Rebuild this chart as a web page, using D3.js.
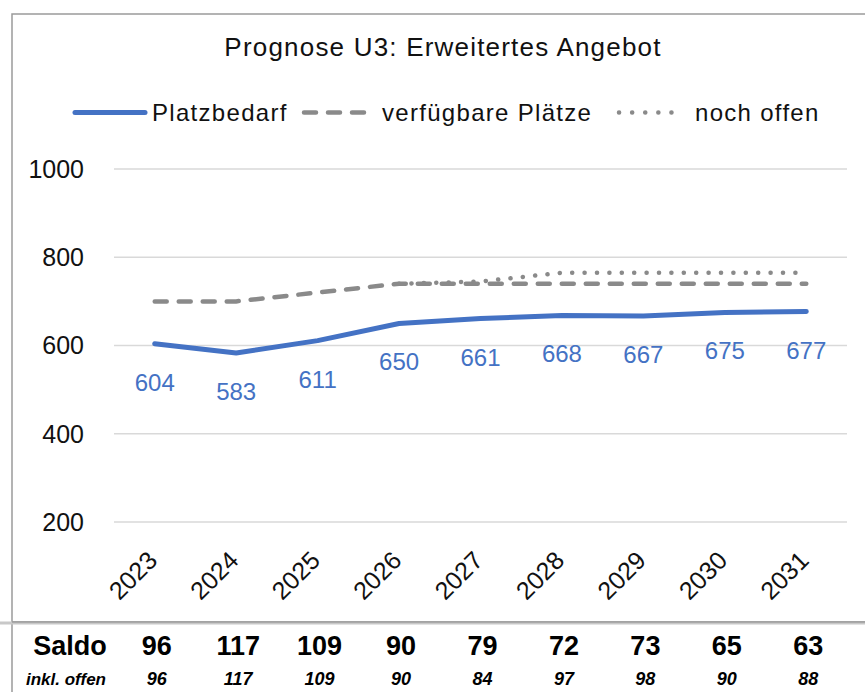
<!DOCTYPE html>
<html>
<head>
<meta charset="utf-8">
<script src="https://cdn.jsdelivr.net/npm/d3@7.9.0/dist/d3.min.js"></script>
<style>
  body { margin: 0; background: #fff; }
  svg { display: block; font-family: "Liberation Sans", Arial, sans-serif; }
</style>
</head>
<body>
<svg id="chart" width="865" height="692"></svg>
<script>
// chart values
const years = ["2023", "2024", "2025", "2026", "2027", "2028", "2029", "2030", "2031"];
const platzbedarf = [604, 583, 611, 650, 661, 668, 667, 675, 677];
const verfuegbar = [700, 700, 720, 740, 740, 740, 740, 740, 740];
const nochOffen = [null, null, null, 740, 745, 765, 765, 765, 765];
const saldo = [96, 117, 109, 90, 79, 72, 73, 65, 63];
const saldoOffen = [96, 117, 109, 90, 84, 97, 98, 90, 88];
const yTicks = [200, 400, 600, 800, 1000];

const blue = "#4472c4";
const grey = "#8a8a8a";

const svg = d3.select("#chart");
svg.append("rect").attr("width", 865).attr("height", 692).attr("fill", "#fff");

// frame of chart area + table line
svg.append("rect")
  .attr("x", 12).attr("y", 14)
  .attr("width", 900).attr("height", 608)
  .attr("fill", "none")
  .attr("stroke", "#9a9a9a")
  .attr("stroke-width", 1.5);
svg.append("line")
  .attr("x1", 12).attr("x2", 12).attr("y1", 622).attr("y2", 692)
  .attr("stroke", "#9a9a9a").attr("stroke-width", 1.5);
svg.append("line")
  .attr("x1", 0).attr("x2", 865).attr("y1", 623).attr("y2", 623)
  .attr("stroke", "#c8c8c8").attr("stroke-width", 3);
svg.append("line")
  .attr("x1", 12).attr("x2", 865).attr("y1", 622).attr("y2", 622)
  .attr("stroke", "#8a8a8a").attr("stroke-width", 1.2);

const plot = { left: 114, right: 847, top: 169, bottom: 522 };

const x = d3.scalePoint()
  .domain(years)
  .range([plot.left, plot.right])
  .padding(0.5);

const y = d3.scaleLinear()
  .domain([200, 1000])
  .range([plot.bottom, plot.top]);

// title
svg.append("text")
  .attr("x", 443).attr("y", 56)
  .attr("text-anchor", "middle")
  .attr("font-size", 26)
  .attr("letter-spacing", 1.2)
  .attr("fill", "#111")
  .text("Prognose U3: Erweitertes Angebot");

// legend
const legend = [
  { name: "Platzbedarf", x0: 75, x1: 145, tx: 152, dash: null, color: blue },
  { name: "verfügbare Plätze", x0: 304, x1: 372, tx: 382, dash: "12 12", color: grey },
  { name: "noch offen", x0: 619, x1: 684, tx: 695, dash: "0.1 13", color: grey }
];
const lg = svg.append("g").attr("class", "legend");
legend.forEach((d) => {
  lg.append("line")
    .attr("x1", d.x0).attr("x2", d.x1)
    .attr("y1", 112.5).attr("y2", 112.5)
    .attr("stroke", d.color)
    .attr("stroke-width", d.dash ? 4.5 : 5)
    .attr("stroke-linecap", "round")
    .attr("stroke-dasharray", d.dash);
  lg.append("text")
    .attr("x", d.tx).attr("y", 120.5)
    .attr("font-size", 24)
    .attr("letter-spacing", 1.3)
    .attr("fill", "#111")
    .text(d.name);
});

// gridlines + y labels
svg.append("g")
  .selectAll("line")
  .data(yTicks)
  .join("line")
  .attr("x1", plot.left).attr("x2", plot.right)
  .attr("y1", (d) => y(d)).attr("y2", (d) => y(d))
  .attr("stroke", "#d9d9d9")
  .attr("stroke-width", 1.5);

svg.append("g")
  .selectAll("text")
  .data(yTicks)
  .join("text")
  .attr("x", 84)
  .attr("y", (d) => y(d))
  .attr("dy", "0.35em")
  .attr("text-anchor", "end")
  .attr("font-size", 25)
  .attr("fill", "#111")
  .text((d) => d);

// x labels, rotated
svg.append("g")
  .selectAll("text")
  .data(years)
  .join("text")
  .attr("transform", (d) => `translate(${x(d) + 4},562) rotate(-45)`)
  .attr("text-anchor", "end")
  .attr("font-size", 25)
  .attr("fill", "#111")
  .text((d) => d);

// lines
const line = d3.line()
  .defined((d) => d.v != null)
  .x((d) => x(d.year))
  .y((d) => y(d.v));

const toPts = (arr) => years.map((year, i) => ({ year, v: arr[i] }));

svg.append("path")
  .datum(toPts(platzbedarf))
  .attr("d", line)
  .attr("fill", "none")
  .attr("stroke", blue)
  .attr("stroke-width", 5)
  .attr("stroke-linejoin", "round")
  .attr("stroke-linecap", "round");

svg.append("path")
  .datum(toPts(verfuegbar))
  .attr("d", line)
  .attr("fill", "none")
  .attr("stroke", grey)
  .attr("stroke-width", 4.5)
  .attr("stroke-dasharray", "12 12")
  .attr("stroke-linecap", "round");

svg.append("path")
  .datum(toPts(nochOffen))
  .attr("d", line)
  .attr("fill", "none")
  .attr("stroke", grey)
  .attr("stroke-width", 4.5)
  .attr("stroke-dasharray", "0.1 12.3")
  .attr("stroke-linecap", "round");

// data labels under blue line
svg.append("g")
  .selectAll("text")
  .data(toPts(platzbedarf))
  .join("text")
  .attr("x", (d) => x(d.year))
  .attr("y", (d) => y(d.v) + 47)
  .attr("text-anchor", "middle")
  .attr("font-size", 24)
  .attr("fill", blue)
  .text((d) => d.v);

// table below
const table = svg.append("g").attr("class", "table");
table.append("text")
  .attr("x", 70).attr("y", 655)
  .attr("text-anchor", "middle")
  .attr("font-size", 27)
  .attr("font-weight", "bold")
  .attr("fill", "#000")
  .text("Saldo");
table.append("text")
  .attr("x", 66).attr("y", 685)
  .attr("text-anchor", "middle")
  .attr("font-size", 17)
  .attr("font-weight", "bold")
  .attr("font-style", "italic")
  .attr("fill", "#000")
  .text("inkl. offen");

table.selectAll(".saldo")
  .data(toPts(saldo))
  .join("text")
  .attr("class", "saldo")
  .attr("x", (d) => x(d.year) + 2)
  .attr("y", 655)
  .attr("text-anchor", "middle")
  .attr("font-size", 27)
  .attr("font-weight", "bold")
  .attr("fill", "#000")
  .text((d) => d.v);

table.selectAll(".offen")
  .data(toPts(saldoOffen))
  .join("text")
  .attr("class", "offen")
  .attr("x", (d) => x(d.year) + 2)
  .attr("y", 685)
  .attr("text-anchor", "middle")
  .attr("font-size", 18)
  .attr("font-weight", "bold")
  .attr("font-style", "italic")
  .attr("fill", "#000")
  .text((d) => d.v);
</script>
</body>
</html>
